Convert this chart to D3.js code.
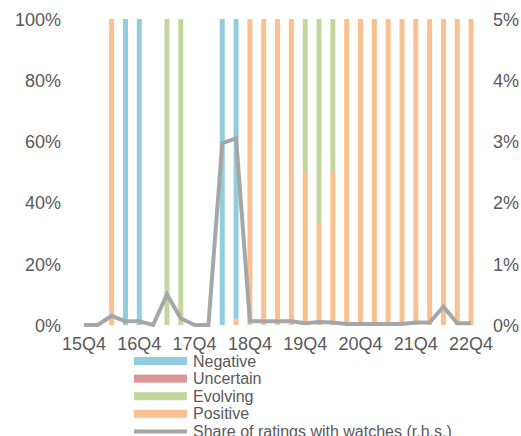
<!DOCTYPE html>
<html><head><meta charset="utf-8">
<script src="https://cdn.jsdelivr.net/npm/d3@7"></script>
<style>
html,body{margin:0;padding:0;background:#fff;}
svg text{font-family:"Liberation Sans",Arial,sans-serif;fill:#595959;}
</style></head>
<body>
<svg id="c" width="521" height="436"></svg>
<script>
const quarters = ["15Q4","16Q1","16Q2","16Q3","16Q4","17Q1","17Q2","17Q3","17Q4","18Q1","18Q2","18Q3","18Q4","19Q1","19Q2","19Q3","19Q4","20Q1","20Q2","20Q3","20Q4","21Q1","21Q2","21Q3","21Q4","22Q1","22Q2","22Q3","22Q4"];
const negative  = [0,0,0,100,100,0,0,0,0,0,100,98,0,0,0,0,0,0,0,0,0,0,0,0,0,0,0,0,0];
const uncertain = [0,0,0,0,0,0,0,0,0,0,0,0,0,0,0,0,0,0,0,0,0,0,0,0,0,0,0,0,0];
const evolving  = [0,0,0,0,0,0,100,100,0,0,0,0,0,0,0,0,50,66.7,50,0,0,0,0,0,0,0,0,0,0];
const positive  = [0,0,100,0,0,0,0,0,0,0,0,2,100,100,100,100,50,33.3,50,100,100,100,100,100,100,100,100,100,100];
const watchShare = [0,0,0.15,0.06,0.06,0,0.5,0.11,0,0,2.97,3.05,0.06,0.06,0.06,0.06,0.03,0.05,0.04,0.015,0.015,0.015,0.015,0.015,0.04,0.04,0.3,0.03,0.03];
const xTickLabels = ["15Q4","16Q4","17Q4","18Q4","19Q4","20Q4","21Q4","22Q4"];
const leftTicks = [0,20,40,60,80,100];
const rightTicks = [0,1,2,3,4,5];

const colors = {Negative:"#93CDDD", Uncertain:"#D99694", Evolving:"#C3D69B", Positive:"#FAC090"};
const lineColor = "#A6A6A6";

const svg = d3.select("#c");
const plotTop = 19, plotBottom = 325;
const x = d3.scaleBand().domain(quarters).range([77.1, 478]).paddingInner(0.64).paddingOuter(0.32);
const yL = d3.scaleLinear().domain([0,100]).range([plotBottom, plotTop]);
const yR = d3.scaleLinear().domain([0,5]).range([plotBottom, plotTop]);

const rows = quarters.map((q,i)=>({q, Negative:negative[i], Uncertain:uncertain[i], Evolving:evolving[i], Positive:positive[i]}));
const keys = ["Positive","Evolving","Uncertain","Negative"];
const stack = d3.stack().keys(keys)(rows);

svg.append("g").selectAll("g").data(stack).join("g")
  .attr("fill", d=>colors[d.key])
  .selectAll("rect").data(d=>d).join("rect")
  .attr("x", d=>x(d.data.q))
  .attr("width", x.bandwidth())
  .attr("y", d=>yL(d[1]))
  .attr("height", d=>yL(d[0])-yL(d[1]));

// left axis
const axL = d3.axisLeft(yL).tickValues(leftTicks).tickFormat(d=>d+"%").tickSize(0).tickPadding(0);
const gL = svg.append("g").attr("transform","translate(61,0)").call(axL);
gL.select(".domain").remove();
gL.selectAll("text").style("font-size","18px").attr("dy","0.35em");

const axR = d3.axisRight(yR).tickValues(rightTicks).tickFormat(d=>d+"%").tickSize(0).tickPadding(0);
const gR = svg.append("g").attr("transform","translate(493,0)").call(axR);
gR.select(".domain").remove();
gR.selectAll("text").style("font-size","18px").attr("dy","0.35em");

const axB = d3.axisBottom(x).tickValues(xTickLabels).tickSize(0).tickPadding(0);
const gB = svg.append("g").attr("transform","translate(0,337)").call(axB);
gB.select(".domain").remove();
gB.selectAll("text").style("font-size","18px").attr("dy","0.71em");

// line
const line = d3.line().x((d,i)=>x(quarters[i])+x.bandwidth()/2).y(d=>yR(d));
svg.append("path").datum(watchShare).attr("d", line)
  .attr("fill","none").attr("stroke",lineColor).attr("stroke-width",4).attr("stroke-linejoin","miter");

// legend
const legendItems = ["Negative","Uncertain","Evolving","Positive"];
const lg = svg.append("g").attr("transform","translate(134,361)");
const rowH = 17.6;
legendItems.forEach((k,i)=>{
  lg.append("rect").attr("x",0).attr("y",i*rowH-4).attr("width",53).attr("height",8).attr("fill",colors[k]);
  lg.append("text").attr("x",59).attr("y",i*rowH).attr("dy","0.35em").style("font-size","16px").text(k);
});
lg.append("line").attr("x1",0).attr("x2",53).attr("y1",4*rowH).attr("y2",4*rowH).attr("stroke",lineColor).attr("stroke-width",4);
lg.append("text").attr("x",59).attr("y",4*rowH).attr("dy","0.35em").style("font-size","16px").text("Share of ratings with watches (r.h.s.)");
</script>
</body></html>
